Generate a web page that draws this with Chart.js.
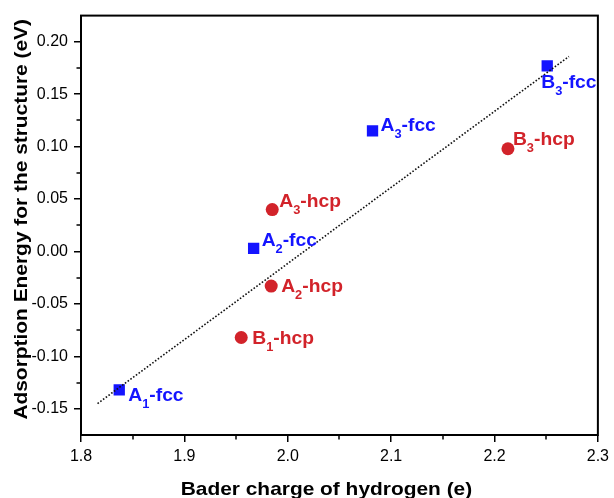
<!DOCTYPE html>
<html><head><meta charset="utf-8">
<script src="https://cdn.jsdelivr.net/npm/chart.js@4.4.0/dist/chart.umd.min.js"></script>
<style>html,body{margin:0;padding:0;background:#fff}#wrap{width:614px;height:498px}</style>
</head><body><div id="wrap"><canvas id="c" width="614" height="498"></canvas></div>
<script>
// ---- data ----
const fccNames = ['A_1-fcc', 'A_2-fcc', 'A_3-fcc', 'B_3-fcc'];
const fccX = [1.837, 1.967, 2.082, 2.251];
const fccY = [-0.132, 0.003, 0.115, 0.177];
const hcpNames = ['B_1-hcp', 'A_2-hcp', 'A_3-hcp', 'B_3-hcp'];
const hcpX = [1.955, 1.984, 1.985, 2.213];
const hcpY = [-0.082, -0.033, 0.040, 0.098];
const fitX = [1.816, 2.272];
const fitY = [-0.145, 0.186];
const xTickLabels = ['1.8', '1.9', '2.0', '2.1', '2.2', '2.3'];
const yTickLabels = ['-0.15', '-0.10', '-0.05', '0.00', '0.05', '0.10', '0.15', '0.20'];
const xMinorTicks = [1.85, 1.95, 2.05, 2.15, 2.25];
const yMinorTicks = [-0.125, -0.075, -0.025, 0.025, 0.075, 0.125, 0.175];
const xTitle = 'Bader charge of hydrogen (e)';
const yTitle = 'Adsorption Energy for the structure (eV)';

// ---- styles ----
const FONT = '"Liberation Sans", Arial, sans-serif';
const BLUE = '#1414ff';
const RED = '#d2232a';
const labelOffsets = {
  'A_1-fcc': [9, 11], 'A_2-fcc': [8, -2], 'A_3-fcc': [8, 0], 'B_3-fcc': [-6, 22],
  'B_1-hcp': [11, 7], 'A_2-hcp': [10, 6], 'A_3-hcp': [7, -3], 'B_3-hcp': [5, -4]
};

const toPts = (xs, ys) => xs.map((x, i) => ({x: x, y: ys[i]}));

function drawLabel(ctx, name, x, y, color) {
  const parts = name.split('_');
  const head = parts[0], sub = parts[1][0], tail = parts[1].slice(1);
  ctx.save();
  ctx.translate(x, y);
  ctx.scale(1.07, 1);
  ctx.fillStyle = color; ctx.textAlign = 'left'; ctx.textBaseline = 'alphabetic';
  ctx.font = 'bold 18px ' + FONT;
  ctx.fillText(head, 0, 0);
  let w = ctx.measureText(head).width;
  ctx.font = 'bold 12px ' + FONT;
  ctx.fillText(sub, w, 7);
  w += ctx.measureText(sub).width;
  ctx.font = 'bold 18px ' + FONT;
  ctx.fillText(tail, w, 0);
  ctx.restore();
}

function drawTitle(ctx, text, x, y, rot) {
  ctx.save();
  ctx.translate(x, y);
  ctx.rotate(rot);
  ctx.scale(1.1, 1);
  ctx.fillStyle = '#000'; ctx.textAlign = 'center'; ctx.textBaseline = 'alphabetic';
  ctx.font = 'bold 19px ' + FONT;
  ctx.fillText(text, 0, 0);
  ctx.restore();
}

const decor = {
  id: 'decor',
  afterDatasetsDraw(chart) {
    const ctx = chart.ctx, a = chart.chartArea;
    const xs = chart.scales.x, ys = chart.scales.y;
    ctx.save();
    ctx.strokeStyle = '#000'; ctx.lineWidth = 2;
    ctx.strokeRect(a.left, a.top, a.right - a.left, a.bottom - a.top);
    ctx.lineWidth = 1.5;
    ctx.beginPath();
    xMinorTicks.forEach(v => { const p = Math.round(xs.getPixelForValue(v)); ctx.moveTo(p, a.bottom); ctx.lineTo(p, a.bottom + 4.5); });
    yMinorTicks.forEach(v => { const p = Math.round(ys.getPixelForValue(v)); ctx.moveTo(a.left, p); ctx.lineTo(a.left - 4.5, p); });
    ctx.stroke();
    const groups = [[fccNames, fccX, fccY, BLUE], [hcpNames, hcpX, hcpY, RED]];
    groups.forEach(g => {
      g[0].forEach((n, i) => {
        const px = xs.getPixelForValue(g[1][i]), py = ys.getPixelForValue(g[2][i]);
        const o = labelOffsets[n] || [8, 0];
        drawLabel(ctx, n, px + o[0], py + o[1], g[3]);
      });
    });
    // axis titles
    drawTitle(ctx, xTitle, (a.left + a.right) / 2 - 13, 495, 0);
    drawTitle(ctx, yTitle, 26.5, (a.top + a.bottom) / 2 - 6, -Math.PI / 2);
    ctx.restore();
  }
};

new Chart(document.getElementById('c'), {
  type: 'scatter',
  data: {
    datasets: [
      { label: 'fit', data: toPts(fitX, fitY), showLine: true, borderColor: '#111', borderWidth: 1.6,
        borderDash: [1.6, 1.8], pointRadius: 0, fill: false },
      { label: 'fcc', data: toPts(fccX, fccY), pointStyle: 'rect', pointRadius: 8,
        backgroundColor: BLUE, borderColor: BLUE, borderWidth: 0 },
      { label: 'hcp', data: toPts(hcpX, hcpY), pointStyle: 'circle', pointRadius: 6.5,
        backgroundColor: RED, borderColor: RED, borderWidth: 0 }
    ]
  },
  options: {
    responsive: false, animation: false,
    layout: { padding: { left: 0, right: 13, top: 14, bottom: 0 } },
    plugins: { legend: { display: false }, tooltip: { enabled: false } },
    scales: {
      x: {
        type: 'linear', min: 1.8, max: 2.3,
        afterFit: s => { s.height = 63; },
        afterBuildTicks: s => { s.ticks = xTickLabels.map(t => ({ value: parseFloat(t) })); },
        ticks: { color: '#000', font: { family: FONT, size: 16 }, padding: 5, maxRotation: 0, autoSkip: false,
          callback: (v, i) => xTickLabels[i] },
        grid: { display: true, drawOnChartArea: false, drawTicks: true, tickLength: 7, color: '#000', lineWidth: 1.5 },
        border: { display: false },
        title: { display: false }
      },
      y: {
        type: 'linear', min: -0.175, max: 0.225,
        afterFit: s => { s.width = 81; },
        afterBuildTicks: s => { s.ticks = yTickLabels.map(t => ({ value: parseFloat(t) })); },
        ticks: { color: '#000', font: { family: FONT, size: 16 }, padding: 6, autoSkip: false,
          callback: (v, i) => yTickLabels[i] },
        grid: { display: true, drawOnChartArea: false, drawTicks: true, tickLength: 7, color: '#000', lineWidth: 1.5 },
        border: { display: false },
        title: { display: false }
      }
    }
  },
  plugins: [decor]
});
</script>
</body></html>
